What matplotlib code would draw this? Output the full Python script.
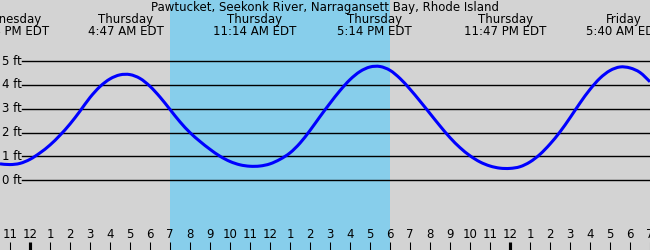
import matplotlib
matplotlib.use("Agg")
import matplotlib.pyplot as plt
import matplotlib.transforms as mtransforms
from matplotlib.path import Path
from matplotlib.patches import PathPatch

# hours after midnight Thursday, sampled every half hour
times = [-1.5 + 0.5 * i for i in range(66)]
heights = [0.69, 0.66, 0.71, 0.88, 1.15, 1.48, 1.89, 2.36, 2.90, 3.47,
           3.93, 4.25, 4.42, 4.43, 4.27, 3.94, 3.49, 2.97, 2.45, 2.00,
           1.63, 1.30, 1.01, 0.79, 0.65, 0.59, 0.60, 0.69, 0.88, 1.15,
           1.56, 2.09, 2.67, 3.23, 3.76, 4.22, 4.56, 4.75, 4.77, 4.61,
           4.27, 3.82, 3.32, 2.80, 2.28, 1.79, 1.37, 1.03, 0.77, 0.60,
           0.51, 0.50, 0.57, 0.77, 1.09, 1.52, 2.03, 2.62, 3.24, 3.81,
           4.28, 4.60, 4.75, 4.71, 4.52, 4.13]

# high / low tide labels
event_times = [-1.1, 4.78, 11.23, 17.23, 23.78, 29.67]
event_days = ["Wednesday", "Thursday", "Thursday", "Thursday", "Thursday", "Friday"]
event_labels = ["10:54 PM EDT", "4:47 AM EDT", "11:14 AM EDT", "5:14 PM EDT",
                "11:47 PM EDT", "5:40 AM EDT"]

# daylight
sunrise, sunset = 7, 18

hour_ticks = list(range(-1, 32))
hour_labels = ["11", "12", "1", "2", "3", "4", "5", "6", "7", "8", "9", "10", "11",
               "12", "1", "2", "3", "4", "5", "6", "7", "8", "9", "10", "11",
               "12", "1", "2", "3", "4", "5", "6", "7"]
midnights = [0, 24]

feet = [0, 1, 2, 3, 4, 5]
title = "Pawtucket, Seekonk River, Narragansett Bay, Rhode Island"

plt.rcParams['font.family'] = ['DejaVu Sans']
fs = 8.5

fig = plt.figure(figsize=(6.5, 2.5), dpi=100, facecolor='#d3d3d3')
ax = fig.add_axes([0, 0, 1, 1])
ax.set_facecolor('#d3d3d3')
ax.set_xlim(-1.5, 31)
ax.set_ylim(-2.92, 7.557)
ax.axis('off')

ax.axvspan(sunrise, sunset, color='#87ceeb', lw=0, zorder=1)

yblend = mtransforms.blended_transform_factory(ax.transAxes, ax.transData)
for f in feet:
    ax.axhline(f, xmin=22 / 650, xmax=1, color='black', lw=1, zorder=2)
    ax.text(2 / 650, f, f"{f} ft", transform=yblend, ha='left', va='center',
            fontsize=fs, color='black')

# smooth curve through the samples (Catmull-Rom as cubic Bezier)
pts = list(zip(times, heights))
verts = [pts[0]]
codes = [Path.MOVETO]
for i in range(len(pts) - 1):
    p0 = pts[max(i - 1, 0)]
    p1 = pts[i]
    p2 = pts[i + 1]
    p3 = pts[min(i + 2, len(pts) - 1)]
    c1 = (p1[0] + (p2[0] - p0[0]) / 6, p1[1] + (p2[1] - p0[1]) / 6)
    c2 = (p2[0] - (p3[0] - p1[0]) / 6, p2[1] - (p3[1] - p1[1]) / 6)
    verts += [c1, c2, p2]
    codes += [Path.CURVE4] * 3
ax.add_patch(PathPatch(Path(verts, codes), fill=False, edgecolor='#0000ff',
                       lw=2.2, zorder=3))

xblend = mtransforms.blended_transform_factory(ax.transData, ax.transAxes)
for t, d, lab in zip(event_times, event_days, event_labels):
    ax.text(t, 1 - 19.5 / 250, d, transform=xblend, ha='center', va='center', fontsize=fs)
    ax.text(t, 1 - 31.5 / 250, lab, transform=xblend, ha='center', va='center', fontsize=fs)

ax.text(0.5, 1 - 7 / 250, title, transform=ax.transAxes, ha='center', va='center', fontsize=fs)

for h, lab in zip(hour_ticks, hour_labels):
    w = 3 if h in midnights else 1
    ax.plot([h, h], [0, 8 / 250], transform=xblend, color='black', lw=w * 0.75,
            solid_capstyle='butt', zorder=4)
    ax.text(h, 15 / 250, lab, transform=xblend, ha='center', va='center', fontsize=fs)

fig.savefig("out.png", dpi=100, facecolor=fig.get_facecolor())
